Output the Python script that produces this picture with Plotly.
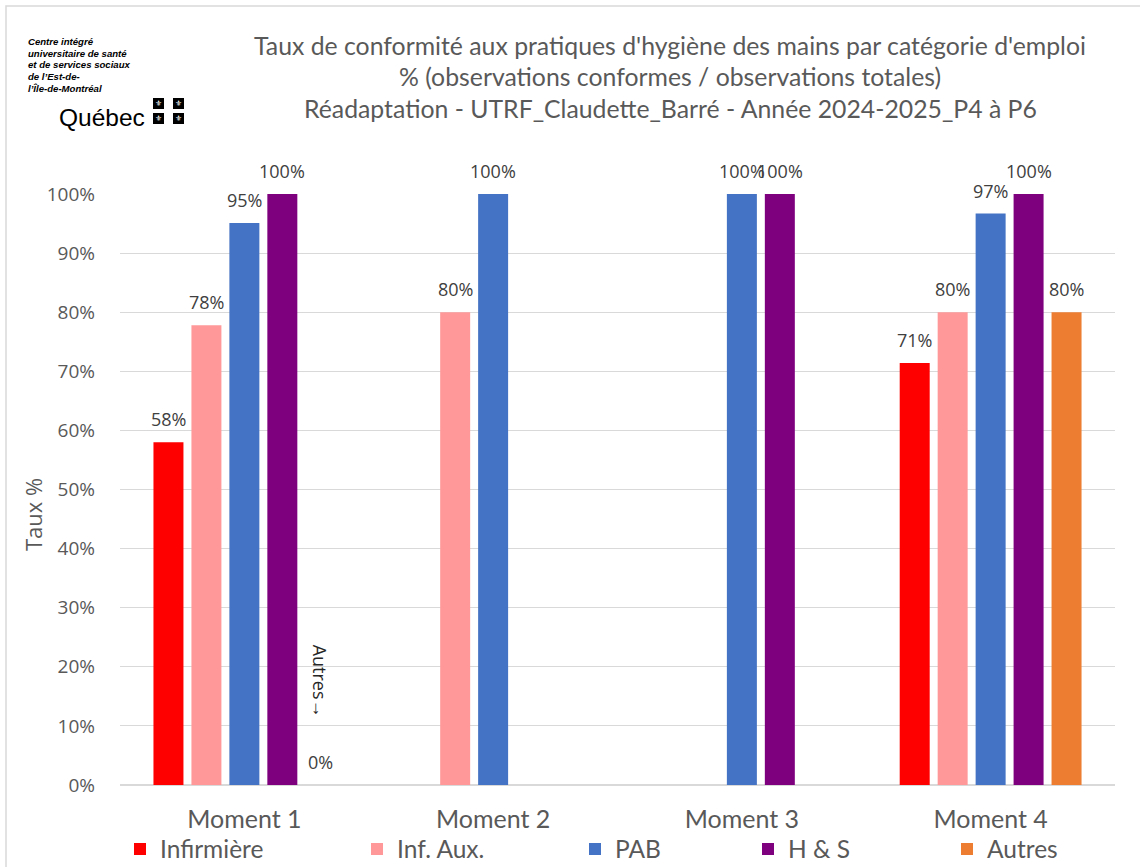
import plotly.graph_objects as go

# ---------------- data ----------------
moments = ["Moment 1", "Moment 2", "Moment 3", "Moment 4"]
infirmiere = [0.58, None, None, 0.714]
inf_aux = [0.778, 0.80, None, 0.80]
pab = [0.951, 1.00, 1.00, 0.967]
hs = [1.00, None, 1.00, 1.00]
autres = [0.0, None, None, 0.80]

series_names = ["Infirmière", "Inf. Aux.", "PAB", "H & S", "Autres"]
series_values = [infirmiere, inf_aux, pab, hs, autres]
series_colors = ["#FF0000", "#FF9999", "#4472C4", "#7F007F", "#ED7D31"]

title_lines = [
    "Taux de conformité aux pratiques d'hygiène des mains par catégorie d'emploi",
    "% (observations conformes / observations totales)",
    "Réadaptation - UTRF_Claudette_Barré - Année 2024-2025_P4 à P6",
]
logo_lines = ["Centre intégré", "universitaire de santé", "et de services sociaux",
              "de l’Est-de-", "l’Île-de-Montréal"]

# ---------------- layout geometry ----------------
W, H = 1140, 867
ML, MR, MT, MB = 120, 25, 194, 82
PW, PH = W - ML - MR, H - MT - MB


def px(x):
    return (x - ML) / PW


def py(y):
    return (H - MB - y) / PH


TXT = "#595959"
LBL = "#404040"
legend_x = [133, 370, 588, 761, 960]

bargap, bargroupgap = 0.237, 0.21
nser = len(series_names)
slot_px = PW / len(moments) * (1 - bargap) / nser

fig = go.Figure()
annotations = []
for i, (name, vals, col) in enumerate(zip(series_names, series_values, series_colors)):
    fig.add_trace(go.Bar(
        name=name, x=moments, y=vals,
        marker=dict(color=col, line=dict(width=0)),
        legend="legend" if i == 0 else f"legend{i+1}",
        hovertemplate="%{x}<br>" + name + ": %{y:.0%}<extra></extra>",
    ))
    # data labels
    for m, v in zip(moments, vals):
        if v is None:
            continue
        annotations.append(dict(text=f"{v:.0%}", xref="x", yref="y", x=m, y=v,
                                xshift=(i - (nser - 1) / 2) * slot_px, yshift=23,
                                xanchor="center", yanchor="middle", showarrow=False,
                                font=dict(family="Open Sans", size=18, color=LBL)))

for k, t in enumerate(title_lines):
    annotations.append(dict(text=t, xref="paper", yref="paper", x=px(670), y=py([45, 77, 108][k]),
                            xanchor="center", yanchor="middle", showarrow=False,
                            font=dict(family="Lato", size=24.8, color=TXT)))
for k, t in enumerate(logo_lines):
    annotations.append(dict(text="<b><i>" + t + "</i></b>", xref="paper", yref="paper",
                            x=px(26), y=py(42 + k * 11.5), xanchor="left", yanchor="middle",
                            showarrow=False,
                            font=dict(family="Liberation Sans", size=9.6, color="black")))
annotations.append(dict(text="Québec", xref="paper", yref="paper", x=px(57), y=py(117),
                        xanchor="left", yanchor="middle", showarrow=False,
                        font=dict(family="Liberation Sans", size=24.5, color="black")))
shapes = []
for (sx, sy) in [(153, 98), (173, 98), (153, 113), (173, 113)]:
    shapes.append(dict(type="rect", xref="paper", yref="paper",
                       x0=px(sx), x1=px(sx + 11), y0=py(sy), y1=py(sy + 11),
                       fillcolor="black", line=dict(width=0)))
    annotations.append(dict(text="⚜", xref="paper", yref="paper", x=px(sx + 5.5), y=py(sy + 5.5),
                            xanchor="center", yanchor="middle", showarrow=False,
                            font=dict(family="DejaVu Sans", size=8, color="white")))
# outer border
shapes.append(dict(type="rect", xref="paper", yref="paper", x0=px(6), x1=px(W + 20),
                   y0=py(H + 20), y1=py(6), line=dict(color="#D9D9D9", width=1.5),
                   fillcolor="rgba(0,0,0,0)", layer="below"))
# axis title
annotations.append(dict(text="Taux %", xref="paper", yref="paper", x=px(33), y=py(515),
                        textangle=-90, xanchor="center", yanchor="middle", showarrow=False,
                        font=dict(family="Open Sans", size=22, color=TXT)))
# "Autres" marker text
annotations.append(dict(text="Autres→", xref="x", yref="y", x=moments[0], y=0.176,
                        xshift=2 * slot_px, textangle=90, showarrow=False,
                        xanchor="center", yanchor="middle",
                        font=dict(family="Open Sans", size=18, color="#262626")))

legends = {}
for i, lx in enumerate(legend_x):
    key = "legend" if i == 0 else f"legend{i+1}"
    legends[key] = dict(xref="container", yref="container", x=(lx - 13) / W, y=1 - 849 / H,
                        xanchor="left", yanchor="middle", orientation="h",
                        bgcolor="rgba(0,0,0,0)",
                        font=dict(family="Lato", size=24.5, color=TXT))

fig.update_layout(
    width=W, height=H,
    margin=dict(l=ML, r=MR, t=MT, b=MB, pad=0, autoexpand=False),
    paper_bgcolor="white", plot_bgcolor="white",
    barmode="group", bargap=bargap, bargroupgap=bargroupgap,
    showlegend=True,
    yaxis=dict(range=[0, 1], dtick=0.1, tickformat=".0%", showgrid=True,
               gridcolor="#D9D9D9", gridwidth=1, zeroline=True, zerolinecolor="#D9D9D9",
               zerolinewidth=1.5, ticks="", ticklabelstandoff=24, automargin=False,
               tickfont=dict(family="Open Sans", size=19, color=TXT)),
    xaxis=dict(showgrid=False, showline=False, ticks="", ticklabelstandoff=17, automargin=False,
               tickfont=dict(family="Lato", size=25, color=TXT)),
    annotations=annotations, shapes=shapes,
    **legends,
)

fig.write_html("out.html", post_script="document.body.style.margin='0';",
               config={"displayModeBar": False})
